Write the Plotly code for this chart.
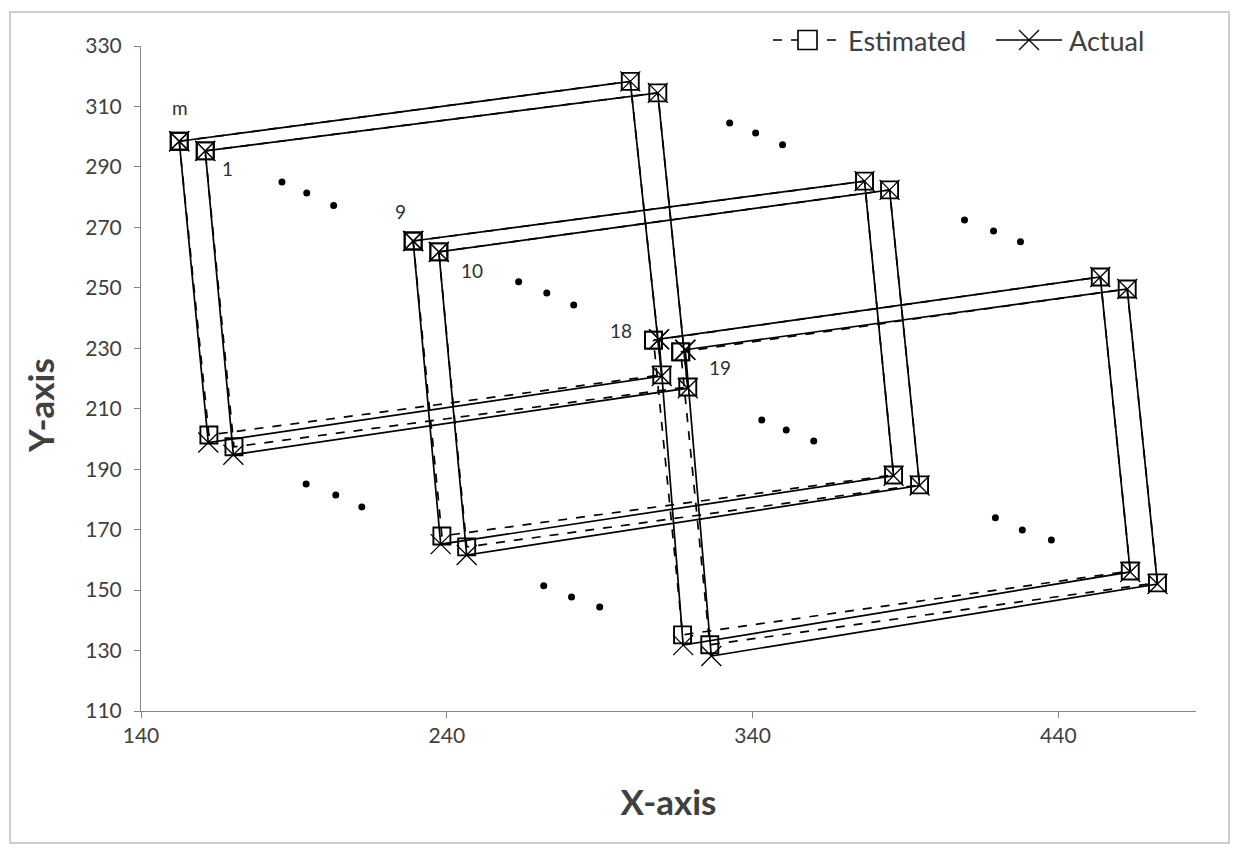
import plotly.graph_objects as go

# Estimated rectangles (TL, TR, BR, BL, TL), separated by None
est_x = [152.5, 300.0, 310.3, 162.2, 152.5, None,
         161.0, 309.0, 318.8, 170.4, 161.0, None,
         229.0, 376.6, 386.1, 238.4, 229.0, None,
         237.4, 384.8, 394.6, 246.5, 237.4, None,
         307.6, 453.7, 463.5, 317.1, 307.6, None,
         316.5, 462.5, 472.4, 326.0, 316.5]
est_y = [298.5, 318.3, 221.2, 201.3, 298.5, None,
         295.3, 314.5, 217.2, 197.4, 295.3, None,
         265.5, 285.3, 188.1, 167.9, 265.5, None,
         261.9, 282.4, 184.8, 164.3, 261.9, None,
         232.7, 253.6, 156.3, 135.2, 232.7, None,
         228.8, 249.6, 152.4, 131.9, 228.8]

# Actual rectangles
act_x = [152.5, 300.0, 310.3, 162.0, 152.5, None,
         161.0, 309.0, 318.8, 170.2, 161.0, None,
         229.0, 376.6, 386.1, 238.0, 229.0, None,
         237.4, 384.8, 394.6, 246.5, 237.4, None,
         309.4, 453.7, 463.5, 317.3, 309.4, None,
         318.0, 462.5, 472.4, 326.5, 318.0]
act_y = [298.5, 318.3, 220.8, 198.8, 298.5, None,
         295.3, 314.5, 216.8, 194.8, 295.3, None,
         265.5, 285.3, 187.8, 165.2, 265.5, None,
         261.9, 282.4, 184.6, 161.6, 261.9, None,
         233.0, 253.6, 156.0, 131.8, 233.0, None,
         229.5, 249.6, 152.0, 128.2, 229.5]

# Ellipsis dots
dot_x = [186.1, 194.2, 203.0, 194.0, 203.7, 212.2, 332.5, 341.0, 349.8,
         263.5, 272.7, 281.5, 271.7, 280.8, 290.0, 409.3, 418.8, 427.6,
         343.0, 351.0, 360.0, 419.4, 428.2, 437.7]
dot_y = [285.0, 281.4, 277.2, 185.1, 181.5, 177.5, 304.5, 301.2, 297.3,
         252.0, 248.3, 244.3, 151.4, 147.7, 144.4, 272.4, 268.8, 265.2,
         206.3, 203.0, 199.3, 173.9, 169.9, 166.6]

# Corner labels
label_text = ["m", "1", "9", "10", "18", "19"]
label_x = [152.7, 168.4, 225.0, 248.2, 296.9, 329.2]
label_y = [309.5, 289.6, 275.4, 255.6, 236.0, 223.5]

series_names = ["Estimated", "Actual"]
x_ticks = [140, 240, 340, 440]
y_ticks = [110, 130, 150, 170, 190, 210, 230, 250, 270, 290, 310, 330]

FONT = "Lato, 'Open Sans', sans-serif"
TXT = "#404040"

# plot-area geometry in pixels (for paper-coordinate helpers)
PL, PR, PT, PB = 141, 1196, 46, 711


def px(xp):
    return (xp - PL) / (PR - PL)


def py(yp):
    return (PB - yp) / (PB - PT)


fig = go.Figure()
fig.add_trace(go.Scatter(
    x=est_x, y=est_y, mode="lines+markers", name=series_names[0],
    line=dict(color="black", width=1.7, dash="dash"),
    marker=dict(symbol="square-open", size=17, color="black",
                line=dict(width=1.9, color="black")),
    connectgaps=False, showlegend=False))
fig.add_trace(go.Scatter(
    x=act_x, y=act_y, mode="lines+markers", name=series_names[1],
    line=dict(color="black", width=1.7),
    marker=dict(symbol="x-thin-open", size=20, color="black",
                line=dict(width=1.3, color="black")),
    connectgaps=False, showlegend=False))
fig.add_trace(go.Scatter(
    x=dot_x, y=dot_y, mode="markers", showlegend=False,
    marker=dict(symbol="circle", size=7, color="black")))

for t, lx, ly in zip(label_text, label_x, label_y):
    fig.add_annotation(x=lx, y=ly, text=t, showarrow=False,
                       font=dict(family=FONT, size=19, color="#303030"))

# outer chart border
fig.add_shape(type="rect", xref="paper", yref="paper",
              x0=px(10), x1=px(1229), y0=py(843), y1=py(12),
              line=dict(color="#bfbfbf", width=1.5), layer="below")

# legend (Excel style: long line sample with marker in the middle)
LY = 40
fig.add_shape(type="line", xref="paper", yref="paper",
              x0=px(773), x1=px(840), y0=py(LY), y1=py(LY),
              line=dict(color="black", width=1.5, dash="dash"))
fig.add_shape(type="rect", xref="paper", yref="paper",
              x0=px(798), x1=px(817), y0=py(LY + 9.5), y1=py(LY - 9.5),
              line=dict(color="black", width=1.6), fillcolor="white")
fig.add_annotation(xref="paper", yref="paper", x=px(846), y=py(LY),
                   xanchor="left", yanchor="middle", showarrow=False,
                   text=series_names[0],
                   font=dict(family=FONT, size=27, color=TXT))
fig.add_shape(type="line", xref="paper", yref="paper",
              x0=px(996), x1=px(1062), y0=py(LY), y1=py(LY),
              line=dict(color="black", width=1.5))
for dx in (-1, 1):
    fig.add_shape(type="line", xref="paper", yref="paper",
                  x0=px(1029 - 10), x1=px(1029 + 10),
                  y0=py(LY - 10 * dx), y1=py(LY + 10 * dx),
                  line=dict(color="black", width=1.2))
fig.add_annotation(xref="paper", yref="paper", x=px(1067), y=py(LY),
                   xanchor="left", yanchor="middle", showarrow=False,
                   text=series_names[1],
                   font=dict(family=FONT, size=27, color=TXT))

# Y-axis title (Excel places it slightly below centre)
fig.add_annotation(xref="paper", yref="paper", x=px(40), y=py(406),
                   xanchor="center", yanchor="middle", showarrow=False,
                   textangle=-90, text="<b>Y-axis</b>",
                   font=dict(family=FONT, size=35, color=TXT))

fig.update_layout(
    width=1239, height=854,
    margin=dict(l=PL, r=1239 - PR, t=PT, b=854 - PB),
    plot_bgcolor="white", paper_bgcolor="white",
    font=dict(family=FONT, color=TXT),
    showlegend=False,
)
fig.update_xaxes(
    range=[140, 485], tickvals=x_ticks, ticktext=[str(v) for v in x_ticks],
    showgrid=False, zeroline=False, showline=True, linecolor="#868686",
    linewidth=1, ticks="outside", ticklen=6, tickcolor="#868686",
    tickfont=dict(family=FONT, size=21, color=TXT),
    title=dict(text="<b>X-axis</b>", standoff=44,
               font=dict(family=FONT, size=35, color=TXT)))
fig.update_yaxes(
    range=[110, 330], tickvals=y_ticks, ticktext=[str(v) for v in y_ticks],
    showgrid=False, zeroline=False, showline=True, linecolor="#868686",
    linewidth=1, ticks="outside", ticklen=6, tickcolor="#868686",
    ticklabelstandoff=8,
    tickfont=dict(family=FONT, size=21, color=TXT))

fig.write_html("out.html", config={"displayModeBar": False},
               post_script="document.body.style.margin='0px';")
